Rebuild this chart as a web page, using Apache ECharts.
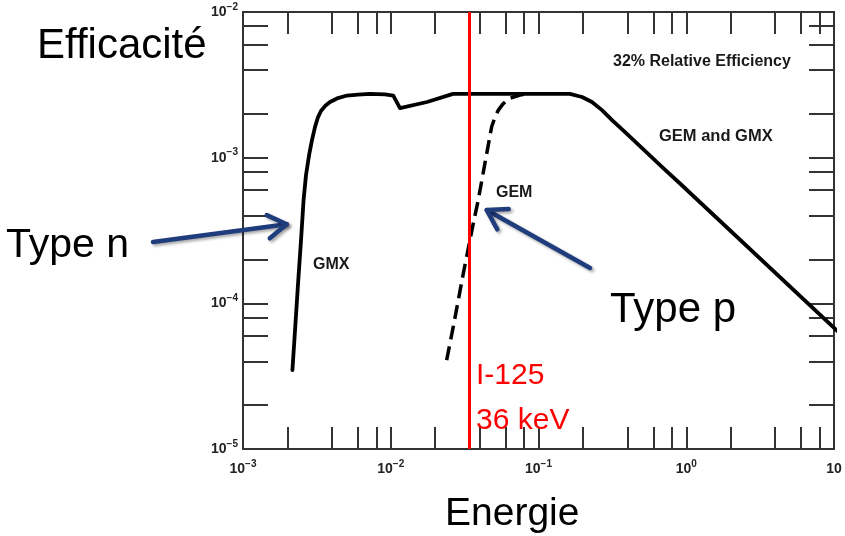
<!DOCTYPE html>
<html>
<head>
<meta charset="utf-8">
<script src="https://cdn.jsdelivr.net/npm/echarts@6/dist/echarts.min.js"></script>
<style>
html,body{margin:0;padding:0;background:#fff;}
#c{width:845px;height:536px;}
</style>
</head>
<body>
<div id="c"></div>
<script>
// ---- data ----
var gmxEnergy = [0.00216, 0.00225, 0.00236, 0.00247, 0.00257, 0.00267, 0.0028, 0.00293, 0.00307, 0.00322, 0.00337, 0.00359, 0.00388, 0.00433, 0.00506, 0.0060, 0.00724, 0.00915, 0.0104, 0.01155, 0.0176, 0.0264, 0.081, 0.163, 0.197, 0.230, 0.269, 0.3145, 0.379, 0.486, 0.696, 0.907, 11];
var gmxEff    = [3.48e-5, 6.56e-5, 1.38e-4, 2.72e-4, 5.12e-4, 7.6e-4, 1.04e-3, 1.32e-3, 1.62e-3, 1.90e-3, 2.09e-3, 2.26e-3, 2.41e-3, 2.55e-3, 2.67e-3, 2.71e-3, 2.74e-3, 2.72e-3, 2.67e-3, 2.19e-3, 2.41e-3, 2.74e-3, 2.74e-3, 2.74e-3, 2.61e-3, 2.41e-3, 2.12e-3, 1.81e-3, 1.52e-3, 1.20e-3, 8.5e-4, 6.65e-4, 6.2e-5];
var gemEnergy = [0.0239, 0.0265, 0.0310, 0.0362, 0.0391, 0.0434, 0.0482, 0.0508, 0.0535, 0.0575, 0.0641, 0.0750, 0.0836];
var gemEff    = [4.08e-5, 6.91e-5, 1.61e-4, 3.54e-4, 5.12e-4, 9.15e-4, 1.63e-3, 1.90e-3, 2.12e-3, 2.34e-3, 2.56e-3, 2.69e-3, 2.74e-3];
var i125Energy = 0.034;

var xTickValues = [0.002, 0.004, 0.006, 0.008, 0.01, 0.02, 0.04, 0.06, 0.08, 0.1, 0.2, 0.4, 0.6, 0.8, 1, 2, 4, 6, 8];
var yTickValues = [2e-5, 4e-5, 6e-5, 8e-5, 1e-4, 2e-4, 4e-4, 6e-4, 8e-4, 1e-3, 2e-3, 4e-3, 6e-3, 8e-3];
var xLabelValues = [0.001, 0.01, 0.1, 1, 10];
var yLabelValues = [1e-5, 1e-4, 1e-3, 1e-2];

// arrows: [tail, tip] in data coordinates
var arrowTypeN = [[2.46e-4, 2.64e-4], [1.977e-3, 3.49e-4]];
var arrowTypeP = [[0.2232, 1.748e-4], [0.04461, 4.37e-4]];

function zip(a, b) { return a.map(function (v, i) { return [v, b[i]]; }); }

var FF = '"Liberation Sans", Arial, Helvetica, sans-serif';
var AX = '#333';

function powLabel(v) {
  var e = Math.round(Math.log10(v));
  if (e === 1) return '{b|10}';
  return '{b|10}{s|' + (e < 0 ? '\u2212' : '') + Math.abs(e) + '}';
}
var rich = {
  b: {fontSize: 14, fontWeight: 'bold', fontFamily: FF, color: '#222', lineHeight: 20},
  s: {fontSize: 10, fontWeight: 'bold', fontFamily: FF, color: '#222', lineHeight: 8, verticalAlign: 'top'}
};

function xAxisCfg(pos, labels) {
  return {
    type: 'log', logBase: 10, min: 0.001, max: 10, position: pos,
    axisLine: {show: true, onZero: false, lineStyle: {color: AX, width: 2}},
    axisTick: {show: true, inside: true, length: 22, customValues: xTickValues, lineStyle: {color: AX, width: 2}},
    minorTick: {show: false},
    splitLine: {show: false},
    axisLabel: labels ? {show: true, customValues: xLabelValues, formatter: powLabel, rich: rich, margin: 10} : {show: false}
  };
}
function yAxisCfg(pos, labels) {
  return {
    type: 'log', logBase: 10, min: 1e-5, max: 1e-2, position: pos,
    axisLine: {show: true, onZero: false, lineStyle: {color: AX, width: 2}},
    axisTick: {show: true, inside: true, length: 25, customValues: yTickValues, lineStyle: {color: AX, width: 2}},
    minorTick: {show: false},
    splitLine: {show: false},
    axisLabel: labels ? {show: true, customValues: yLabelValues, formatter: powLabel, rich: rich, margin: 5} : {show: false}
  };
}

var chart = echarts.init(document.getElementById('c'), null, {renderer: 'canvas'});
chart.setOption({
  animation: false,
  backgroundColor: '#fff',
  grid: {left: 243, right: 11, top: 12, bottom: 87, containLabel: false},
  xAxis: [xAxisCfg('bottom', true), xAxisCfg('top', false)],
  yAxis: [yAxisCfg('left', true), yAxisCfg('right', false)],
  series: [
    {
      name: 'GMX', type: 'line', xAxisIndex: 0, yAxisIndex: 0,
      data: zip(gmxEnergy, gmxEff), showSymbol: false, smooth: false, clip: false,
      lineStyle: {color: '#000', width: 3.8, cap: 'round', join: 'round'}, z: 3
    },
    {
      name: 'GEM', type: 'line', xAxisIndex: 0, yAxisIndex: 0,
      data: zip(gemEnergy, gemEff), showSymbol: false, smooth: false,
      lineStyle: {color: '#000', width: 3.5, type: [14, 7], join: 'round'}, z: 3
    },
    {
      name: 'I-125', type: 'line', xAxisIndex: 0, yAxisIndex: 0, data: [], z: 10,
      markLine: {
        silent: true, symbol: ['none', 'none'], animation: false, precision: 6,
        label: {show: false},
        lineStyle: {color: '#ff0000', width: 3, type: 'solid'},
        data: [{xAxis: i125Energy}]
      }
    }
  ]
});

function px(p) { return chart.convertToPixel({gridIndex: 0}, p); }
var NAVY = '#1f3d7c';
function arrow(def) {
  var t = px(def[0]), h = px(def[1]);
  var th = Math.atan2(h[1] - t[1], h[0] - t[0]);
  var L = 22, a = 32 * Math.PI / 180;
  var a1 = [h[0] - L * Math.cos(th - a), h[1] - L * Math.sin(th - a)];
  var a2 = [h[0] - L * Math.cos(th + a), h[1] - L * Math.sin(th + a)];
  var st = {stroke: NAVY, lineWidth: 4.5, lineCap: 'round', lineJoin: 'round', fill: null,
            shadowBlur: 3, shadowColor: 'rgba(0,0,0,0.35)', shadowOffsetX: 2, shadowOffsetY: 2};
  return [
    {type: 'line', shape: {x1: t[0], y1: t[1], x2: h[0], y2: h[1]}, style: st, z: 20},
    {type: 'polyline', shape: {points: [a1, h, a2]}, style: st, z: 20}
  ];
}
function txt(s, x, y, size, weight, color) {
  return {type: 'text', x: x, y: y, z: 30, silent: true,
    style: {text: s, fontSize: size, fontWeight: weight, fontFamily: FF, fill: color, align: 'left', verticalAlign: 'middle'}};
}
var g = [].concat(arrow(arrowTypeN), arrow(arrowTypeP), [
  txt('Efficacité', 37, 46, 42, 'normal', '#000'),
  txt('Energie', 445, 514, 39, 'normal', '#000'),
  txt('Type n', 6, 246, 41, 'normal', '#000'),
  txt('Type p', 610, 310, 42, 'normal', '#000'),
  txt('I-125', 476, 376, 30, 'normal', '#ff0000'),
  txt('36 keV', 476, 421, 30, 'normal', '#ff0000'),
  txt('32% Relative Efficiency', 613, 62, 16, 'bold', '#1a1a1a'),
  txt('GEM and GMX', 659, 136, 16.5, 'bold', '#1a1a1a'),
  txt('GEM', 496, 193, 16, 'bold', '#1a1a1a'),
  txt('GMX', 313, 265, 16, 'bold', '#1a1a1a')
]);
chart.setOption({graphic: g});
</script>
</body>
</html>
